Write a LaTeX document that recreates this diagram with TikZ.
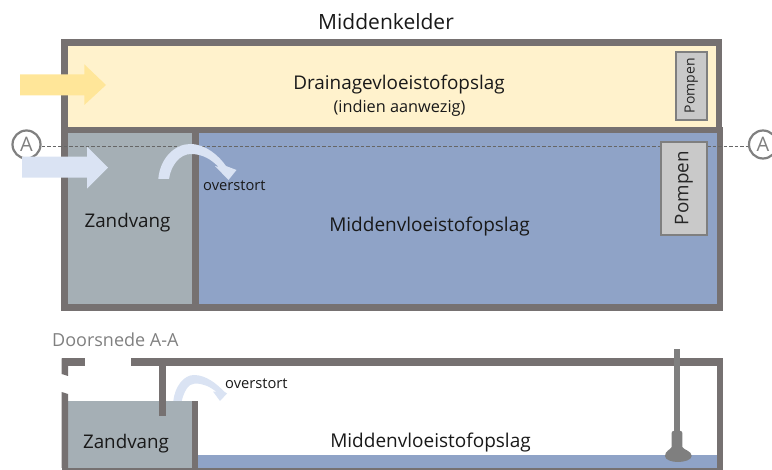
\documentclass[tikz,border=0pt]{standalone}
\usepackage{fontspec}
\setmainfont{Open Sans}
\definecolor{wall}{HTML}{767171}
\definecolor{geel}{HTML}{FFF2CC}
\definecolor{geelpijl}{HTML}{FFE699}
\definecolor{blauw}{HTML}{8FA3C7}
\definecolor{zand}{HTML}{A5AFB5}
\definecolor{lichtblauw}{HTML}{DAE3F3}
\definecolor{pomp}{HTML}{C9C9C9}
\definecolor{pompr}{HTML}{7F7F7F}
\definecolor{tekstgrijs}{HTML}{808080}
\tikzset{
  wallfill/.style={fill=wall,draw=none},
  txt/.style={inner sep=0pt,text=black!90},
  pompbox/.style={draw=pompr,fill=pomp,line width=2.2pt,inner sep=0pt,rotate=90,text=black!85},
  letter/.style={circle,draw=tekstgrijs,line width=2.2pt,fill=white,minimum size=28pt,inner sep=0pt,text=tekstgrijs,font=\fontsize{20}{20}\selectfont},
}
\begin{document}
\begin{tikzpicture}[x=1pt,y=-1pt]
\useasboundingbox (0,0) rectangle (772,470);
% top view
\fill[wall] (61,39.5) rectangle (722,127);
\fill[wall] (61,127) rectangle (723,311);
\fill[geel] (67.7,46) rectangle (716,126.7);
\fill[zand] (67.7,133) rectangle (191.7,304.5);
\fill[blauw] (199,133) rectangle (716.7,304.5);
% section line and markers
\node[letter] (A1) at (26.5,144.5) {A};
\node[letter] (A2) at (763,144.5) {A};
\draw[draw=black!60,line width=0.8pt,dash pattern=on 3.5pt off 2pt] (A1.east |- 0,146) -- (A2.west |- 0,146);
% pumps
\node[pompbox,minimum width=68pt,minimum height=31pt,font=\fontsize{14}{14}\selectfont] (P1) at (691.3,85.7) {Pompen};
\node[pompbox,minimum width=93pt,minimum height=45.5pt,font=\fontsize{18.8}{18.8}\selectfont] (P2) at (684,188.2) {Pompen};
% inflow arrows
\fill[geelpijl] (20,74.3) -- (84.3,74.3) -- (84.3,64.3) -- (106,85) -- (84.3,105) -- (84.3,95.3) -- (20,95.3) -- cycle;
\fill[lichtblauw] (22,156.7) -- (87,156.7) -- (87,146.7) -- (108,167.5) -- (87,188.7) -- (87,177.7) -- (22,177.7) -- cycle;
% overflow arrow top
\fill[lichtblauw] (158.3,179) .. controls (160,158) and (175,144) .. (190,144)
  .. controls (206,144) and (219,156) .. (226,166) -- (236.5,170) -- (228.5,180) -- (215,166)
  -- (218.5,167) .. controls (212,160) and (203,154) .. (191,154)
  .. controls (180,154) and (171,165) .. (169,179) -- cycle;
% texts top
\node[txt,font=\fontsize{21}{21}\selectfont] (t1) at (386,22) {Middenkelder};
\node[txt,font=\fontsize{18.9}{18.9}\selectfont] (t2) at (399,85) {Drainagevloeistofopslag};
\node[txt,font=\fontsize{16.3}{16.3}\selectfont] (t3) at (399.5,108) {(indien aanwezig)};
\node[txt,font=\fontsize{18.8}{18.8}\selectfont] (t4) at (127.5,222.5) {Zandvang};
\node[txt,font=\fontsize{19}{19}\selectfont] (t5) at (429.5,227) {Middenvloeistofopslag};
\node[txt,anchor=west,font=\fontsize{14.7}{14.7}\selectfont] (t6) at (203,185.5) {overstort};
% section
\node[inner sep=0pt,anchor=west,text=tekstgrijs,font=\fontsize{18}{18}\selectfont] (t7) at (52,339.5) {Doorsnede A-A};
\fill[zand] (68,401) rectangle (192,468.5);
\fill[blauw] (197.7,455) rectangle (717,468.5);
\fill[wall] (61.7,358.3) rectangle (85,365.7);
\fill[wall] (130.7,358.3) rectangle (723,365.7);
\fill[wall] (61.7,358.3) -- (68,358.3) -- (68,376) -- (61.7,374) -- cycle;
\fill[wall] (61.7,392) -- (68,394) -- (68,468) -- (61.7,468) -- cycle;
\fill[wall] (61.7,468.3) rectangle (723,470);
\fill[wall] (159,365) rectangle (165.7,415.7);
\fill[wall] (191.7,401) rectangle (197.7,468.5);
\fill[wall] (716.7,358.3) rectangle (723,470);
% overflow arrow section
\fill[lichtblauw] (173.3,401) .. controls (175,386) and (184,375) .. (194,375)
  .. controls (206,375) and (217,384) .. (224,391.5) -- (227,393.5) -- (220,401) -- (213,391.5)
  -- (216.5,392) .. controls (210,386.5) and (203,383.5) .. (195,383.5)
  .. controls (188,383.5) and (184,392) .. (181.7,401) -- cycle;
% pump in section
\fill[pompr] (674.3,349) rectangle (680,433);
\fill[pompr] (671.7,433) to[out=90,in=180] (673.5,431) -- (680.5,431) to[out=0,in=90] (682.3,433) -- (682.3,447)
  .. controls (684,450) and (691.7,451) .. (691.7,456) .. controls (691.7,460) and (684,462) .. (678,462)
  .. controls (672,462) and (665,460) .. (665,456) .. controls (665,451) and (670,450) .. (671.7,447) -- cycle;
\node[txt,font=\fontsize{18.8}{18.8}\selectfont] (t8) at (126,443.5) {Zandvang};
\node[txt,font=\fontsize{19}{19}\selectfont] (t9) at (430.5,442.5) {Middenvloeistofopslag};
\node[txt,anchor=west,font=\fontsize{14.7}{14.7}\selectfont] (t10) at (225,383.5) {overstort};
\end{tikzpicture}
\end{document}
